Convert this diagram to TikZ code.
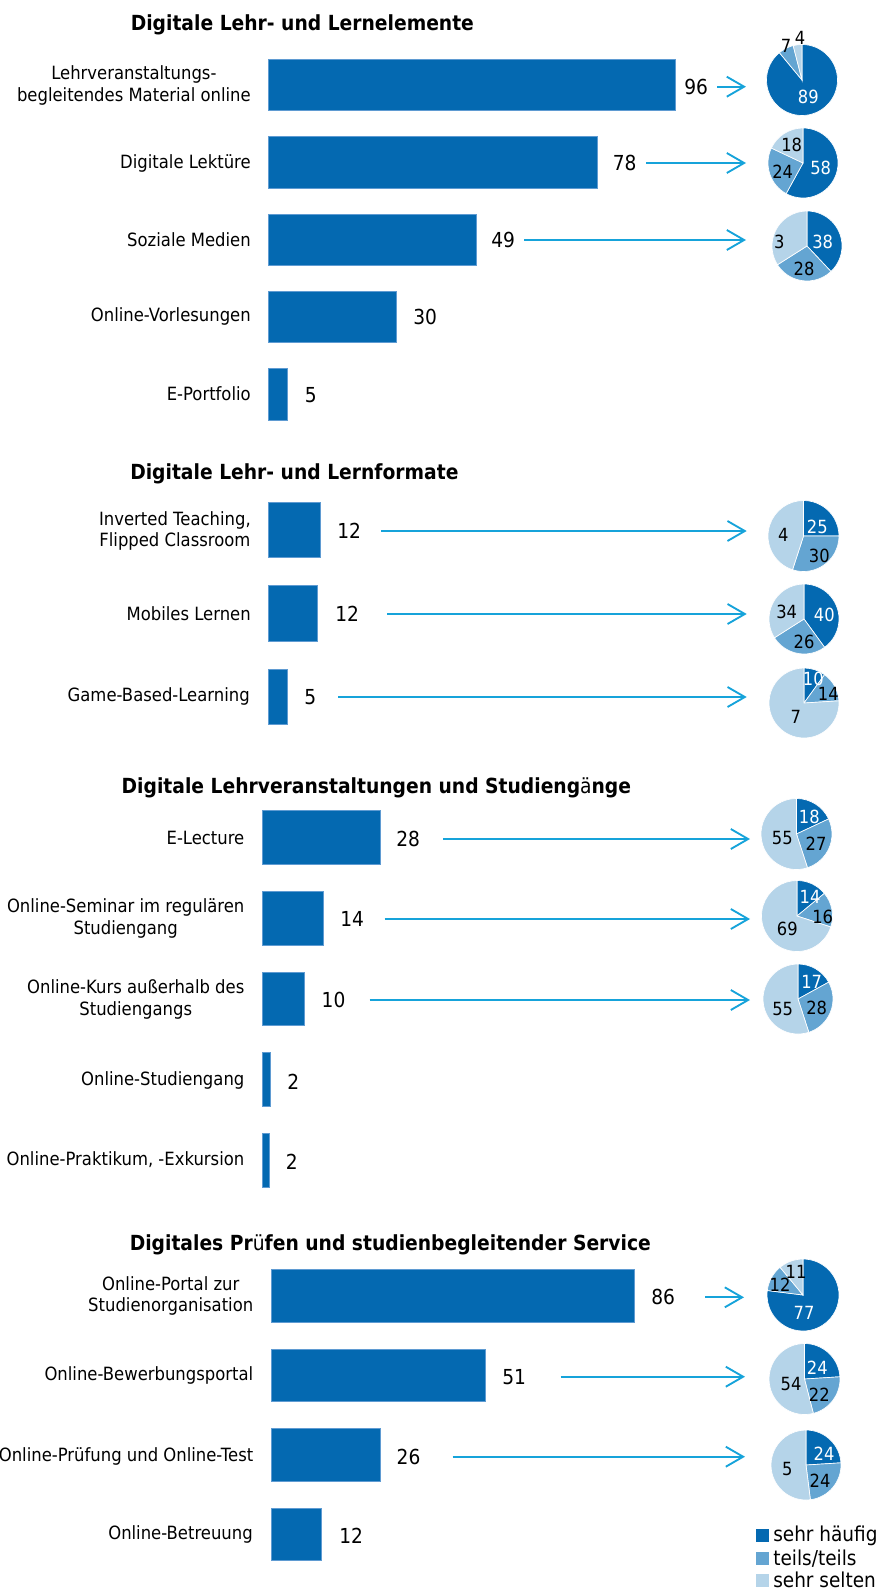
\documentclass[tikz,border=0pt]{standalone}
\usepackage{fontspec}
\setmainfont{DejaVu Sans}[FakeStretch=0.9]
\usetikzlibrary{arrows.meta}
\definecolor{cbar}{RGB}{4,105,177}
\definecolor{cmid}{RGB}{100,165,210}
\definecolor{clight}{RGB}{181,212,233}
\definecolor{carrow}{RGB}{22,163,218}
\definecolor{cedge}{RGB}{95,155,210}
\newcommand{\mkbar}[5]{\node[barnode, minimum width={(#4-#2)*0.75pt}, minimum height={(#5-#3)*0.75pt}, anchor=north west] (#1) at (#2,-#3) {};}
\newcommand{\mkpie}[6]{%
  \node[circle, inner sep=0pt, outer sep=0pt, minimum size={2*#4*0.75pt}] (#1) at (#2,-#3) {};
  \path[fill=cbar, draw=white, line width=0.5pt] (#1.center) -- ++(90:#4) arc[start angle=90, end angle={90-3.6*#5}, radius=#4] -- cycle;
  \path[fill=cmid, draw=white, line width=0.5pt] (#1.center) -- ++({90-3.6*#5}:#4) arc[start angle={90-3.6*#5}, end angle={90-3.6*(#5+#6)}, radius=#4] -- cycle;
  \path[fill=clight, draw=white, line width=0.5pt] (#1.center) -- ++({90-3.6*(#5+#6)}:#4) arc[start angle={90-3.6*(#5+#6)}, end angle=-270, radius=#4] -- cycle;
}
\tikzset{
 barnode/.style={rectangle, fill=cbar, draw=cedge, line width=0.4pt, inner sep=0pt, outer sep=0pt},
 lbl/.style={anchor=east, inner sep=0pt, align=center, font=\fontsize{13.7}{16.3}\selectfont},
 num/.style={anchor=west, inner sep=0pt, font=\fontsize{15.5}{18}\selectfont},
 ttl/.style={anchor=base west, inner sep=0pt, font=\fontsize{15.6}{18}\selectfont\bfseries},
 pw/.style={inner sep=0pt, text=white, font=\fontsize{13.6}{15}\selectfont},
 pb/.style={inner sep=0pt, text=black, font=\fontsize{13.6}{15}\selectfont},
 arr/.style={draw=carrow, line width=1.4pt, -{Straight Barb[length=13pt,width=15pt]}},
 leg/.style={anchor=base west, inner sep=0pt, font=\fontsize{15.4}{18}\selectfont},
 legbox/.style={anchor=south west, inner sep=0pt, outer sep=0pt, minimum size=9.75pt},
}
\begin{document}
\begin{tikzpicture}[x=0.75pt,y=0.75pt]
\useasboundingbox (0,0) rectangle (881,-1591);
% titles
\node[ttl] (t1) at (130.5,-30.7) {Digitale Lehr- und Lernelemente};
\node[ttl] (t2) at (130,-479.3) {Digitale Lehr- und Lernformate};
\node[ttl] (t3) at (121.4,-793.3) {Digitale Lehrveranstaltungen und Studieng{\mdseries ä}nge};
\node[ttl] (t4) at (129.5,-1250.7) {Digitales Pr{\mdseries ü}fen und studienbegleitender Service};
% bars
\mkbar{b1}{268}{59}{675}{110}
\mkbar{b2}{268}{136}{597}{188}
\mkbar{b3}{268}{214}{476}{265}
\mkbar{b4}{268}{291}{396}{342}
\mkbar{b5}{268}{368}{287.5}{420}
\mkbar{b6}{268}{502.7}{320}{557.7}
\mkbar{b7}{268}{585.7}{317.4}{641}
\mkbar{b8}{268}{669}{287.5}{724}
\mkbar{b9}{262.5}{810}{380.4}{864}
\mkbar{b10}{262.5}{891}{322.8}{945}
\mkbar{b11}{262.5}{972}{304}{1025.7}
\mkbar{b12}{262.5}{1052.7}{270.5}{1106.7}
\mkbar{b13}{262.5}{1133}{269}{1187}
\mkbar{b14}{271.4}{1269.7}{634.4}{1322.3}
\mkbar{b15}{271.4}{1349.3}{485.7}{1401.7}
\mkbar{b16}{271.4}{1428.7}{380.4}{1481.7}
\mkbar{b17}{271.4}{1508.3}{321.4}{1560.7}
% labels
\node[lbl] (l1) at (251,-85.5) {Lehrveranstaltungs-\\begleitendes Material online};
\node[lbl] (l2) at (251,-163) {Digitale Lektüre};
\node[lbl] (l3) at (251,-240) {Soziale Medien};
\node[lbl] (l4) at (251,-316.7) {Online-Vorlesungen};
\node[lbl] (l5) at (251,-394) {E-Portfolio};
\node[lbl] (l6) at (251,-531) {Inverted Teaching,\\Flipped Classroom};
\node[lbl] (l7) at (251,-614) {Mobiles Lernen};
\node[lbl] (l8) at (250,-696.7) {Game-Based-Learning};
\node[lbl] (l9) at (244.6,-837.7) {E-Lecture};
\node[lbl] (l10) at (244.6,-918.3) {Online-Seminar im regulären\\Studiengang};
\node[lbl] (l11) at (244.6,-999.5) {Online-Kurs außerhalb des\\Studiengangs};
\node[lbl] (l12) at (244.6,-1080.7) {Online-Studiengang};
\node[lbl] (l13) at (244.6,-1160) {Online-Praktikum, -Exkursion};
\node[lbl] (l14) at (253.5,-1296) {Online-Portal zur\\Studienorganisation};
\node[lbl] (l15) at (253.5,-1375.7) {Online-Bewerbungsportal};
\node[lbl] (l16) at (253.5,-1456) {Online-Prüfung und Online-Test};
\node[lbl] (l17) at (253,-1534.3) {Online-Betreuung};
% numbers
\node[num] (n1) at (684,-86.7) {96};
\node[num] (n2) at (612.5,-163) {78};
\node[num] (n3) at (491,-240) {49};
\node[num] (n4) at (413,-317) {30};
\node[num] (n5) at (304.5,-395) {5};
\node[num] (n6) at (337,-531) {12};
\node[num] (n7) at (335,-614) {12};
\node[num] (n8) at (304,-697) {5};
\node[num] (n9) at (396,-839) {28};
\node[num] (n10) at (340,-919) {14};
\node[num] (n11) at (321.4,-1000) {10};
\node[num] (n12) at (287,-1081.7) {2};
\node[num] (n13) at (285.7,-1161.7) {2};
\node[num] (n14) at (651,-1297.3) {86};
\node[num] (n15) at (502,-1376.7) {51};
\node[num] (n16) at (396.4,-1456.7) {26};
\node[num] (n17) at (339,-1536) {12};
% pies
\mkpie{p1}{802}{80}{35.5}{89}{7}
\mkpie{p2}{803}{163}{35}{58}{24}
\mkpie{p3}{807}{246}{35}{38}{28}
\mkpie{p4}{803.5}{536}{35.5}{25}{30}
\mkpie{p5}{804}{619}{35}{40}{26}
\mkpie{p6}{804}{703}{35}{10}{14}
\mkpie{p7}{796.5}{834}{35.5}{18}{27}
\mkpie{p8}{797}{916}{35.5}{14}{16}
\mkpie{p9}{798}{999}{35}{17}{28}
\mkpie{p10}{803}{1295}{36}{77}{12}
\mkpie{p11}{804.5}{1379}{35.5}{24}{22}
\mkpie{p12}{806}{1465}{35}{24}{24}
% pie labels
\node[pw] (q1a) at (808.3,-96.7) {89};
\node[pb] (q1b) at (786,-46) {7};
\node[pb] (q1c) at (800,-38) {4};
\begin{scope}\clip (p2.center) circle[radius=35.5];
\node[pw] (q2a) at (820.7,-167.7) {58};
\node[pb] (q2b) at (782.7,-171.7) {24};
\node[pb] (q2c) at (791.7,-145) {18};
\end{scope}
\begin{scope}\clip (p3.center) circle[radius=35.5];
\node[pw] (q3a) at (822.7,-241.7) {38};
\node[pb] (q3b) at (804,-269.3) {28};
\node[pb] (q3c) at (779.3,-242.3) {3};
\end{scope}
\begin{scope}\clip (p4.center) circle[radius=36];
\node[pw] (q4a) at (817.3,-526.7) {25};
\node[pb] (q4b) at (819.3,-556) {30};
\node[pb] (q4c) at (783.3,-535) {4};
\end{scope}
\begin{scope}\clip (p5.center) circle[radius=35.5];
\node[pw] (q5a) at (824.3,-615) {40};
\node[pb] (q5b) at (804,-642.3) {26};
\node[pb] (q5c) at (786.7,-612.3) {34};
\end{scope}
\begin{scope}\clip (p6.center) circle[radius=35.5];
\node[pw] (q6a) at (813.3,-679) {10};
\node[pb] (q6b) at (828.3,-694.3) {14};
\node[pb] (q6c) at (795.7,-717.3) {7};
\end{scope}
\begin{scope}\clip (p7.center) circle[radius=36];
\node[pw] (q7a) at (809.3,-817.3) {18};
\node[pb] (q7b) at (816,-843.3) {27};
\node[pb] (q7c) at (782.3,-838.3) {55};
\end{scope}
\begin{scope}\clip (p8.center) circle[radius=36];
\node[pw] (q8a) at (810,-896.7) {14};
\node[pb] (q8b) at (822.7,-916.7) {16};
\node[pb] (q8c) at (787.3,-929.3) {69};
\end{scope}
\begin{scope}\clip (p9.center) circle[radius=35.5];
\node[pw] (q9a) at (811.7,-981.7) {17};
\node[pb] (q9b) at (816.7,-1008.3) {28};
\node[pb] (q9c) at (782.7,-1009.3) {55};
\end{scope}
\begin{scope}\clip (p10.center) circle[radius=36.5];
\node[pw] (q10a) at (804,-1313) {77};
\node[pb] (q10b) at (780,-1285) {12};
\node[pb] (q10c) at (796,-1271.5) {11};
\end{scope}
\begin{scope}\clip (p11.center) circle[radius=36];
\node[pw] (q11a) at (817.3,-1367.3) {24};
\node[pb] (q11b) at (819.3,-1395) {22};
\node[pb] (q11c) at (791,-1384.3) {54};
\end{scope}
\begin{scope}\clip (p12.center) circle[radius=35.5];
\node[pw] (q12a) at (824,-1453.3) {24};
\node[pb] (q12b) at (820,-1480.7) {24};
\node[pb] (q12c) at (787.3,-1469.3) {5};
\end{scope}
% arrows
\draw[arr, shorten <=6.75pt, shorten >=15.4pt] (n1.east) -- (n1.east -| p1.west);
\draw[arr, shorten <=7.1pt, shorten >=16.5pt] (n2.east) -- (n2.east -| p2.west);
\draw[arr, shorten <=6.75pt, shorten >=19.5pt] (n3.east) -- (n3.east -| p3.west);
\draw[arr, shorten <=15pt, shorten >=16pt] (n6.east) -- (n6.east -| p4.west);
\draw[arr, shorten <=21pt, shorten >=16.7pt] (n7.east) -- (n7.east -| p5.west);
\draw[arr, shorten <=16.5pt, shorten >=16.7pt] (n8.east) -- (n8.east -| p6.west);
\draw[arr, shorten <=17.25pt, shorten >=8.25pt] (n9.east) -- (n9.east -| p7.west);
\draw[arr, shorten <=15.4pt, shorten >=8.6pt] (n10.east) -- (n10.east -| p8.west);
\draw[arr, shorten <=18pt, shorten >=9.75pt] (n11.east) -- (n11.east -| p9.west);
\draw[arr, shorten <=22.5pt, shorten >=17.25pt] (n14.east) -- (n14.east -| p10.west);
\draw[arr, shorten <=25.9pt, shorten >=18pt] (n15.east) -- (n15.east -| p11.west);
\draw[arr, shorten <=24pt, shorten >=19.5pt] (n16.east) -- (n16.east -| p12.west);
% legend
\node[legbox, fill=cbar] (g1) at (756,-1541.7) {};
\node[legbox, fill=cmid] (g2) at (756,-1565) {};
\node[legbox, fill=clight] (g3) at (756,-1587) {};
\node[leg] (h1) at (773,-1541.7) {sehr häufig};
\node[leg] (h2) at (773,-1565) {teils/teils};
\node[leg] (h3) at (773,-1587) {sehr selten};
\end{tikzpicture}
\end{document}
